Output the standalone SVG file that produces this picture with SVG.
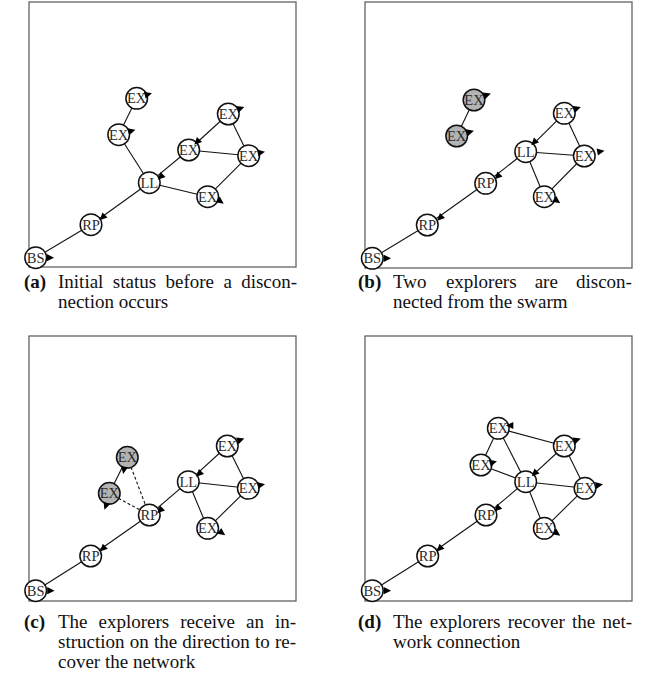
<svg xmlns="http://www.w3.org/2000/svg" xmlns:xlink="http://www.w3.org/1999/xlink" width="667" height="692" viewBox="0 0 667 692">
<style>
  .frame { fill: none; stroke: #555; stroke-width: 1.2; }
  .edge { stroke: #111; stroke-width: 1.1; fill: none; }
  .dash { stroke: #111; stroke-width: 1.1; fill: none; stroke-dasharray: 3 2.2; }
  .nd { fill: #fff; stroke: #111; stroke-width: 1.5; }
  .lost { fill: #b3b3b3; stroke: #111; stroke-width: 1.5; }
  .lbl { font-family: "Liberation Serif", "Times New Roman", serif; font-size: 14.5px; fill: #2a2a2a; text-anchor: middle; }
  .hd { fill: #000; }
  .cap { font-family: "Liberation Serif", "Times New Roman", serif; font-size: 19px; fill: #111; }
  .capb { font-weight: bold; }
</style>
<defs>
  <path id="tri" d="M-2.8,-3.6 L4.6,0 L-2.8,3.6 Z"/>
</defs>

<!-- panel frames -->
<g id="frames">
  <rect class="frame" x="29" y="2" width="267" height="265"/>
  <rect class="frame" x="365" y="2" width="267" height="266"/>
  <rect class="frame" x="29" y="336" width="267" height="265"/>
  <rect class="frame" x="365" y="336" width="267" height="265"/>
</g>

<!-- links between nodes -->
<g id="connectors">
  <!-- (a) -->
  <line class="edge" x1="136.7" y1="98.3" x2="118.7" y2="134.7"/>
  <line class="edge" x1="118.7" y1="134.7" x2="149.3" y2="182.7"/>
  <line class="edge" x1="149.3" y1="182.7" x2="188.7" y2="150"/>
  <line class="edge" x1="188.7" y1="150" x2="228.3" y2="114"/>
  <line class="edge" x1="188.7" y1="150" x2="248.7" y2="155.7"/>
  <line class="edge" x1="228.3" y1="114" x2="248.7" y2="155.7"/>
  <line class="edge" x1="248.7" y1="155.7" x2="207.7" y2="196.7"/>
  <line class="edge" x1="149.3" y1="182.7" x2="207.7" y2="196.7"/>
  <line class="edge" x1="149.3" y1="182.7" x2="91" y2="224.7"/>
  <line class="edge" x1="91" y1="224.7" x2="35.7" y2="257.7"/>
  <!-- (b) -->
  <line class="edge" x1="474" y1="100" x2="456.7" y2="136"/>
  <line class="edge" x1="564.3" y1="113.3" x2="525.7" y2="151.7"/>
  <line class="edge" x1="525.7" y1="151.7" x2="584.3" y2="156"/>
  <line class="edge" x1="564.3" y1="113.3" x2="584.3" y2="156"/>
  <line class="edge" x1="525.7" y1="151.7" x2="544.3" y2="196.7"/>
  <line class="edge" x1="584.3" y1="156" x2="544.3" y2="196.7"/>
  <line class="edge" x1="525.7" y1="151.7" x2="485.7" y2="183.3"/>
  <line class="edge" x1="485.7" y1="183.3" x2="427.3" y2="225"/>
  <line class="edge" x1="427.3" y1="225" x2="372.3" y2="258.3"/>
  <!-- (c) -->
  <line class="edge" x1="127.3" y1="457.3" x2="109.3" y2="493.3"/>
  <line class="dash" x1="127.3" y1="457.3" x2="149.3" y2="515"/>
  <line class="dash" x1="109.3" y1="493.3" x2="149.3" y2="515"/>
  <line class="edge" x1="227.3" y1="446" x2="188.3" y2="481.7"/>
  <line class="edge" x1="188.3" y1="481.7" x2="248.3" y2="488.3"/>
  <line class="edge" x1="227.3" y1="446" x2="248.3" y2="488.3"/>
  <line class="edge" x1="188.3" y1="481.7" x2="207.7" y2="528.3"/>
  <line class="edge" x1="248.3" y1="488.3" x2="207.7" y2="528.3"/>
  <line class="edge" x1="188.3" y1="481.7" x2="149.3" y2="515"/>
  <line class="edge" x1="149.3" y1="515" x2="90.7" y2="556"/>
  <line class="edge" x1="90.7" y1="556" x2="35.7" y2="590.7"/>
  <!-- (d) -->
  <line class="edge" x1="498.3" y1="428.3" x2="481" y2="465"/>
  <line class="edge" x1="498.3" y1="428.3" x2="525.7" y2="481.7"/>
  <line class="edge" x1="564.3" y1="446" x2="498.3" y2="428.3"/>
  <line class="edge" x1="481" y1="465" x2="525.7" y2="481.7"/>
  <line class="edge" x1="564.3" y1="446" x2="525.7" y2="481.7"/>
  <line class="edge" x1="525.7" y1="481.7" x2="585" y2="488.3"/>
  <line class="edge" x1="564.3" y1="446" x2="585" y2="488.3"/>
  <line class="edge" x1="525.7" y1="481.7" x2="544.3" y2="528.3"/>
  <line class="edge" x1="585" y1="488.3" x2="544.3" y2="528.3"/>
  <line class="edge" x1="525.7" y1="481.7" x2="486" y2="515"/>
  <line class="edge" x1="486" y1="515" x2="427.7" y2="556"/>
  <line class="edge" x1="427.7" y1="556" x2="372.3" y2="590.7"/>
</g>

<!-- (a) nodes -->
<g id="a-ex1"><circle class="nd" cx="136.7" cy="98.3" r="10.8"/><text class="lbl" x="136.7" y="103.3">EX</text><use href="#tri" class="hd" transform="translate(147.5,94.5) rotate(-15)"/></g>
<g id="a-ex2"><circle class="nd" cx="118.7" cy="134.7" r="10.8"/><text class="lbl" x="118.7" y="139.7">EX</text><use href="#tri" class="hd" transform="translate(131,131) rotate(-15)"/></g>
<g id="a-ex3"><circle class="nd" cx="228.3" cy="114" r="10.8"/><text class="lbl" x="228.3" y="119">EX</text><use href="#tri" class="hd" transform="translate(240,108.5) rotate(-20)"/></g>
<g id="a-ex4"><circle class="nd" cx="188.7" cy="150" r="10.8"/><text class="lbl" x="188.7" y="155">EX</text><use href="#tri" class="hd" transform="translate(197.5,141.5) rotate(135)"/></g>
<g id="a-ex5"><circle class="nd" cx="248.7" cy="155.7" r="10.8"/><text class="lbl" x="248.7" y="160.7">EX</text><use href="#tri" class="hd" transform="translate(260.5,152.5) rotate(-10)"/></g>
<g id="a-ll"><circle class="nd" cx="149.3" cy="182.7" r="10.8"/><text class="lbl" x="149.3" y="187.7">LL</text><use href="#tri" class="hd" transform="translate(161,176.5) rotate(135)"/></g>
<g id="a-ex6"><circle class="nd" cx="207.7" cy="196.7" r="10.8"/><text class="lbl" x="207.7" y="201.7">EX</text><use href="#tri" class="hd" transform="translate(220,201) rotate(35)"/></g>
<g id="a-rp"><circle class="nd" cx="91" cy="224.7" r="10.8"/><text class="lbl" x="91" y="229.7">RP</text><use href="#tri" class="hd" transform="translate(103,217) rotate(135)"/></g>
<g id="a-bs"><circle class="nd" cx="35.7" cy="257.7" r="10.8"/><text class="lbl" x="35.7" y="262.7">BS</text><use href="#tri" class="hd" transform="translate(49.5,257.7) rotate(0)"/></g>

<!-- (b) nodes -->
<g id="b-ex1"><circle class="lost" cx="474" cy="100" r="10.8"/><text class="lbl" x="474" y="105">EX</text><use href="#tri" class="hd" transform="translate(486.5,95) rotate(-20)"/></g>
<g id="b-ex2"><circle class="lost" cx="456.7" cy="136" r="10.8"/><text class="lbl" x="456.7" y="141">EX</text><use href="#tri" class="hd" transform="translate(469.5,132) rotate(-15)"/></g>
<g id="b-ex3"><circle class="nd" cx="564.3" cy="113.3" r="10.8"/><text class="lbl" x="564.3" y="118.3">EX</text><use href="#tri" class="hd" transform="translate(576.5,108.5) rotate(-20)"/></g>
<g id="b-ll"><circle class="nd" cx="525.7" cy="151.7" r="10.8"/><text class="lbl" x="525.7" y="156.7">LL</text><use href="#tri" class="hd" transform="translate(534.5,142) rotate(135)"/></g>
<g id="b-ex4"><circle class="nd" cx="584.3" cy="156" r="10.8"/><text class="lbl" x="584.3" y="161">EX</text><use href="#tri" class="hd" transform="translate(600,151.5) rotate(-10)"/></g>
<g id="b-rp1"><circle class="nd" cx="485.7" cy="183.3" r="10.8"/><text class="lbl" x="485.7" y="188.3">RP</text><use href="#tri" class="hd" transform="translate(498,176) rotate(135)"/></g>
<g id="b-ex5"><circle class="nd" cx="544.3" cy="196.7" r="10.8"/><text class="lbl" x="544.3" y="201.7">EX</text><use href="#tri" class="hd" transform="translate(556.5,200.5) rotate(35)"/></g>
<g id="b-rp2"><circle class="nd" cx="427.3" cy="225" r="10.8"/><text class="lbl" x="427.3" y="230">RP</text><use href="#tri" class="hd" transform="translate(440.5,217.5) rotate(135)"/></g>
<g id="b-bs"><circle class="nd" cx="372.3" cy="258.3" r="10.8"/><text class="lbl" x="372.3" y="263.3">BS</text><use href="#tri" class="hd" transform="translate(386.5,258.3) rotate(0)"/></g>

<!-- (c) nodes -->
<g id="c-ex1"><circle class="lost" cx="127.3" cy="457.3" r="10.8"/><text class="lbl" x="127.3" y="462.3">EX</text><use href="#tri" class="hd" transform="translate(124,469.5) rotate(100)"/></g>
<g id="c-ex2"><circle class="lost" cx="109.3" cy="493.3" r="10.8"/><text class="lbl" x="109.3" y="498.3">EX</text><use href="#tri" class="hd" transform="translate(106,505.5) rotate(110)"/></g>
<g id="c-ex3"><circle class="nd" cx="227.3" cy="446" r="10.8"/><text class="lbl" x="227.3" y="451">EX</text><use href="#tri" class="hd" transform="translate(240,440) rotate(-20)"/></g>
<g id="c-ll"><circle class="nd" cx="188.3" cy="481.7" r="10.8"/><text class="lbl" x="188.3" y="486.7">LL</text><use href="#tri" class="hd" transform="translate(199.5,473.5) rotate(135)"/></g>
<g id="c-ex4"><circle class="nd" cx="248.3" cy="488.3" r="10.8"/><text class="lbl" x="248.3" y="493.3">EX</text><use href="#tri" class="hd" transform="translate(260.5,485) rotate(-10)"/></g>
<g id="c-rp1"><circle class="nd" cx="149.3" cy="515" r="10.8"/><text class="lbl" x="149.3" y="520">RP</text><use href="#tri" class="hd" transform="translate(160.5,510) rotate(135)"/></g>
<g id="c-ex5"><circle class="nd" cx="207.7" cy="528.3" r="10.8"/><text class="lbl" x="207.7" y="533.3">EX</text><use href="#tri" class="hd" transform="translate(221.5,532.5) rotate(35)"/></g>
<g id="c-rp2"><circle class="nd" cx="90.7" cy="556" r="10.8"/><text class="lbl" x="90.7" y="561">RP</text><use href="#tri" class="hd" transform="translate(103.3,548.3) rotate(135)"/></g>
<g id="c-bs"><circle class="nd" cx="35.7" cy="590.7" r="10.8"/><text class="lbl" x="35.7" y="595.7">BS</text><use href="#tri" class="hd" transform="translate(50,590.7) rotate(0)"/></g>

<!-- (d) nodes -->
<g id="d-ex1"><circle class="nd" cx="498.3" cy="428.3" r="10.8"/><text class="lbl" x="498.3" y="433.3">EX</text><use href="#tri" class="hd" transform="translate(510.5,425.5) rotate(180)"/></g>
<g id="d-ex2"><circle class="nd" cx="481" cy="465" r="10.8"/><text class="lbl" x="481" y="470">EX</text><use href="#tri" class="hd" transform="translate(492.5,462.5) rotate(-15)"/></g>
<g id="d-ex3"><circle class="nd" cx="564.3" cy="446" r="10.8"/><text class="lbl" x="564.3" y="451">EX</text><use href="#tri" class="hd" transform="translate(576.5,440) rotate(-20)"/></g>
<g id="d-ll"><circle class="nd" cx="525.7" cy="481.7" r="10.8"/><text class="lbl" x="525.7" y="486.7">LL</text><use href="#tri" class="hd" transform="translate(535,473) rotate(135)"/></g>
<g id="d-ex4"><circle class="nd" cx="585" cy="488.3" r="10.8"/><text class="lbl" x="585" y="493.3">EX</text><use href="#tri" class="hd" transform="translate(598.5,485) rotate(-10)"/></g>
<g id="d-rp1"><circle class="nd" cx="486" cy="515" r="10.8"/><text class="lbl" x="486" y="520">RP</text><use href="#tri" class="hd" transform="translate(497.7,508.3) rotate(135)"/></g>
<g id="d-ex5"><circle class="nd" cx="544.3" cy="528.3" r="10.8"/><text class="lbl" x="544.3" y="533.3">EX</text><use href="#tri" class="hd" transform="translate(556.5,533) rotate(35)"/></g>
<g id="d-rp2"><circle class="nd" cx="427.7" cy="556" r="10.8"/><text class="lbl" x="427.7" y="561">RP</text><use href="#tri" class="hd" transform="translate(440,548.3) rotate(135)"/></g>
<g id="d-bs"><circle class="nd" cx="372.3" cy="590.7" r="10.8"/><text class="lbl" x="372.3" y="595.7">BS</text><use href="#tri" class="hd" transform="translate(386.5,590.7) rotate(0)"/></g>

<!-- sub-captions (first lines justified word by word) -->
<g id="captions" class="cap">
  <text x="24" y="288" class="capb">(a)</text>
  <text y="288"><tspan x="58">Initial</tspan><tspan x="112.8">status</tspan><tspan x="165.5">before</tspan><tspan x="223.4">a</tspan><tspan x="241.2">discon-</tspan></text>
  <text x="58" y="308">nection occurs</text>

  <text x="358" y="288" class="capb">(b)</text>
  <text y="288"><tspan x="393">Two</tspan><tspan x="445.9">explorers</tspan><tspan x="534.7">are</tspan><tspan x="576">discon-</tspan></text>
  <text x="393" y="308">nected from the swarm</text>

  <text x="24" y="628" class="capb">(c)</text>
  <text y="628"><tspan x="58">The</tspan><tspan x="98.5">explorers</tspan><tspan x="180.2">receive</tspan><tspan x="246.1">an</tspan><tspan x="275">in-</tspan></text>
  <text y="648"><tspan x="58">struction</tspan><tspan x="129.7">on</tspan><tspan x="153.9">the</tspan><tspan x="182.3">direction</tspan><tspan x="255">to</tspan><tspan x="275">re-</tspan></text>
  <text x="58" y="668">cover the network</text>

  <text x="358" y="628" class="capb">(d)</text>
  <text y="628"><tspan x="393">The</tspan><tspan x="429.8">explorers</tspan><tspan x="507.8">recover</tspan><tspan x="572.1">the</tspan><tspan x="602.6">net-</tspan></text>
  <text x="393" y="648">work connection</text>
</g>
</svg>
